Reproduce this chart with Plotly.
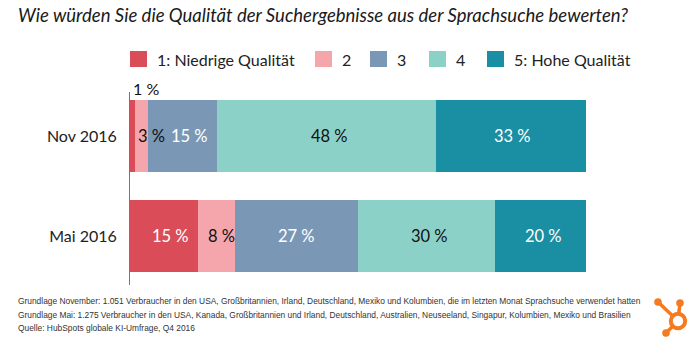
import plotly.graph_objects as go

# Survey data: share of ratings per wave (percent)
periods = ["Mai 2016", "Nov 2016"]
ratings = ["1: Niedrige Qualität", "2", "3", "4", "5: Hohe Qualität"]
nov_2016 = [1, 3, 15, 48, 33]
mai_2016 = [15, 8, 27, 30, 20]

colors = ["#d94c58", "#f5a6ac", "#7a98b6", "#8cd1c8", "#1a8ea3"]
label_colors = {
    "Nov 2016": ["#111", "#111", "#fff", "#111", "#fff"],
    "Mai 2016": ["#fff", "#111", "#fff", "#111", "#fff"],
}
# small horizontal nudges (px) for the in-bar labels
label_shift = {
    "Nov 2016": [0, 10, 7, 3, 2],
    "Mai 2016": [6, 5, 0, 3, 3],
}

values = {"Nov 2016": nov_2016, "Mai 2016": mai_2016}

W, H = 700, 342
X0, X1 = 130, 586          # plot area, px
Y_TOP, Y_BOT = 92, 285

fig = go.Figure()
for i, r in enumerate(ratings):
    fig.add_trace(go.Bar(
        y=periods,
        x=[values[p][i] for p in periods],
        name=r,
        orientation="h",
        marker=dict(color=colors[i], line=dict(width=0)),
        width=0.72,
        showlegend=False,
        hoverinfo="skip",
    ))

FONT = "Lato"
annotations = []
for p in periods:
    cum = 0
    for i, v in enumerate(values[p]):
        center = cum + v / 2
        if p == "Nov 2016" and i == 0:
            # the 1 % segment is too thin, label sits above the bar
            annotations.append(dict(
                x=cum, y=p, xref="x", yref="y", text=f"{v} %",
                showarrow=False, xanchor="left", yanchor="bottom",
                yshift=36, xshift=1,
                font=dict(family=FONT, size=16, color="#111")))
        else:
            annotations.append(dict(
                x=center, y=p, xref="x", yref="y", text=f"{v} %",
                showarrow=False, xshift=label_shift[p][i],
                font=dict(family=FONT, size=16.5, color=label_colors[p][i])))
        cum += v

# title
annotations.append(dict(
    x=16 / W, y=1 - 15 / H, xref="paper", yref="paper", xanchor="left",
    yanchor="middle", showarrow=False,
    text="<i>Wie würden Sie die Qualität der Suchergebnisse aus der Sprachsuche bewerten?</i>",
    font=dict(family=FONT, size=18.5, color="#1a1a1a")))

# legend (swatch + label)
legend_x = [130, 315, 370, 429, 487]
shapes = []
for i, r in enumerate(ratings):
    x = legend_x[i]
    shapes.append(dict(type="rect", xref="paper", yref="paper",
                       x0=x / W, x1=(x + 17) / W,
                       y0=1 - 67 / H, y1=1 - 51 / H,
                       fillcolor=colors[i], line=dict(width=0)))
    annotations.append(dict(
        x=(x + 25) / W, y=1 - 59 / H, xref="paper", yref="paper",
        xanchor="left", yanchor="middle", showarrow=False, text=r,
        font=dict(family=FONT, size=16, color="#222")))

# footnotes
notes = [
    "Grundlage November: 1.051 Verbraucher in den USA, Großbritannien, Irland, Deutschland, Mexiko und Kolumbien, die im letzten Monat Sprachsuche verwendet hatten",
    "Grundlage Mai: 1.275 Verbraucher in den USA, Kanada, Großbritannien und Irland, Deutschland, Australien, Neuseeland, Singapur, Kolumbien, Mexiko und Brasilien",
    "Quelle: HubSpots globale KI-Umfrage, Q4 2016",
]
for k, t in enumerate(notes):
    annotations.append(dict(
        x=16 / W, y=1 - (301 + 13.5 * k) / H, xref="paper", yref="paper",
        xanchor="left", yanchor="middle", showarrow=False, text=t,
        font=dict(family="Liberation Sans", size=8.4, color="#333")))

# sprocket logo
orange = "#f47b20"
cx, cy = 678, 321
for (ax, ay) in [(658, 302), (680, 303), (666, 333)]:
    shapes.append(dict(type="line", xref="paper", yref="paper",
                       x0=cx / W, y0=1 - cy / H, x1=ax / W, y1=1 - ay / H,
                       line=dict(color=orange, width=3.5)))
    r = 3.8
    shapes.append(dict(type="circle", xref="paper", yref="paper",
                       x0=(ax - r) / W, x1=(ax + r) / W,
                       y0=1 - (ay + r) / H, y1=1 - (ay - r) / H,
                       fillcolor=orange, line=dict(width=0)))
R = 7.2
shapes.append(dict(type="circle", xref="paper", yref="paper",
                   x0=(cx - R) / W, x1=(cx + R) / W,
                   y0=1 - (cy + R) / H, y1=1 - (cy - R) / H,
                   fillcolor="white", line=dict(color=orange, width=4)))

fig.update_layout(
    barmode="stack",
    width=W, height=H,
    margin=dict(l=0, r=0, t=0, b=0),
    paper_bgcolor="white", plot_bgcolor="white",
    annotations=annotations,
    shapes=shapes,
    xaxis=dict(domain=[X0 / W, X1 / W], range=[0, 100], visible=False,
               fixedrange=True),
    yaxis=dict(domain=[1 - Y_BOT / H, 1 - Y_TOP / H], range=[-0.49, 1.44],
               categoryorder="array", categoryarray=periods,
               showline=True, linecolor="#777", linewidth=1,
               showgrid=False, zeroline=False, ticks="",
               ticklabelstandoff=9, automargin=False,
               tickfont=dict(family=FONT, size=16, color="#222"),
               fixedrange=True),
    bargap=0,
)

fig.write_html("out.html")
